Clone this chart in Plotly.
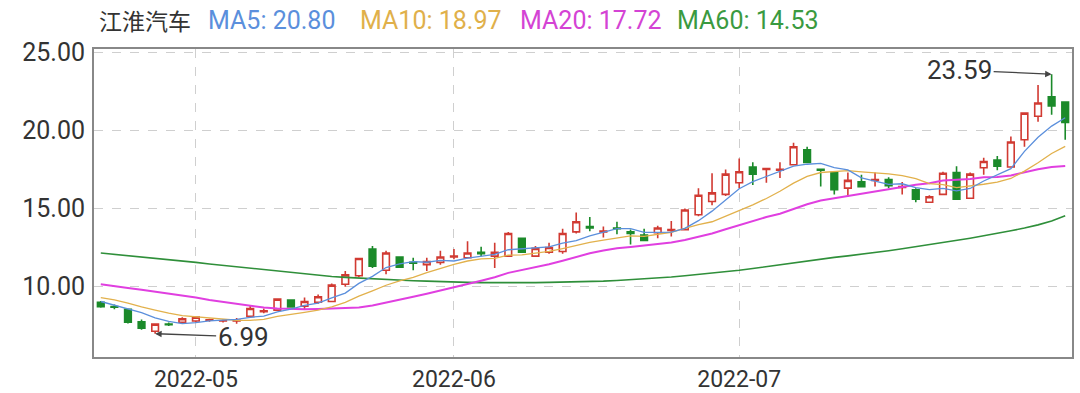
import plotly.graph_objects as go

dates = [
    "2022-04-21", "2022-04-22", "2022-04-25", "2022-04-26", "2022-04-27", "2022-04-28", "2022-04-29",
    "2022-05-05", "2022-05-06", "2022-05-09", "2022-05-10", "2022-05-11", "2022-05-12", "2022-05-13",
    "2022-05-16", "2022-05-17", "2022-05-18", "2022-05-19", "2022-05-20", "2022-05-23", "2022-05-24",
    "2022-05-25", "2022-05-26", "2022-05-27", "2022-05-30", "2022-05-31",
    "2022-06-01", "2022-06-02", "2022-06-06", "2022-06-07", "2022-06-08", "2022-06-09", "2022-06-10",
    "2022-06-13", "2022-06-14", "2022-06-15", "2022-06-16", "2022-06-17", "2022-06-20", "2022-06-21",
    "2022-06-22", "2022-06-23", "2022-06-24", "2022-06-27", "2022-06-28", "2022-06-29", "2022-06-30",
    "2022-07-01", "2022-07-04", "2022-07-05", "2022-07-06", "2022-07-07", "2022-07-08", "2022-07-11",
    "2022-07-12", "2022-07-13", "2022-07-14", "2022-07-15", "2022-07-18", "2022-07-19", "2022-07-20",
    "2022-07-21", "2022-07-22", "2022-07-25", "2022-07-26", "2022-07-27", "2022-07-28", "2022-07-29",
    "2022-08-01", "2022-08-02", "2022-08-03", "2022-08-04",
]

open_ = [9.00, 8.72, 8.55, 7.75, 7.15, 7.60, 7.72, 7.80, 7.85, 7.80,
         7.80, 8.10, 8.40, 8.50, 9.15, 8.75, 9.00, 9.05, 10.15, 10.70,
         12.40, 11.05, 11.90, 11.55, 11.40, 11.55, 11.90, 11.85, 12.20, 11.95,
         11.95, 13.10, 11.95, 12.20, 12.25, 13.50, 13.85, 13.50, 13.75, 13.50,
         13.30, 13.45, 13.60, 13.65, 14.60, 15.45, 15.90, 16.65, 17.65, 17.50,
         17.45, 17.80, 18.75, 17.50, 17.30, 16.30, 16.70, 16.80, 16.85, 16.35,
         16.20, 15.40, 15.90, 17.30, 15.65, 17.60, 18.10, 17.65, 19.40, 20.90,
         22.15, 21.80]
high = [9.08, 8.85, 8.60, 7.90, 7.65, 7.70, 8.05, 8.10, 7.95, 7.90,
        8.00, 8.80, 8.60, 9.25, 9.20, 9.30, 9.50, 10.20, 11.00, 11.85,
        12.60, 12.30, 11.95, 11.85, 11.85, 12.30, 12.40, 12.90, 12.55, 12.80,
        13.50, 13.15, 12.60, 12.80, 13.70, 14.75, 14.45, 13.85, 14.15, 13.65,
        13.70, 13.90, 14.20, 15.00, 16.30, 17.25, 17.50, 18.20, 17.95, 17.60,
        17.95, 19.20, 18.95, 17.55, 17.35, 17.30, 17.15, 17.30, 17.00, 16.70,
        16.30, 15.85, 17.35, 17.70, 17.30, 18.25, 18.35, 19.60, 21.15, 22.90,
        23.59, 21.85]
low = [8.65, 8.55, 7.65, 7.25, 6.99, 7.48, 7.65, 7.72, 7.75, 7.70,
       7.62, 8.00, 8.30, 8.45, 8.65, 8.55, 8.90, 9.00, 10.00, 10.60,
       11.20, 10.80, 11.20, 11.05, 11.00, 11.40, 11.75, 11.80, 11.95, 11.20,
       11.90, 12.15, 11.90, 12.10, 12.10, 13.40, 13.55, 13.15, 13.35, 12.70,
       12.90, 13.10, 13.20, 13.60, 14.50, 15.20, 15.80, 16.30, 16.50, 16.65,
       16.95, 17.75, 17.90, 16.40, 15.90, 15.75, 16.35, 16.40, 16.30, 15.90,
       15.40, 15.35, 15.85, 15.55, 15.60, 17.15, 17.45, 17.60, 18.95, 20.55,
       21.00, 19.40]
close = [8.72, 8.68, 7.72, 7.35, 7.60, 7.56, 7.95, 8.05, 7.88, 7.82,
         7.85, 8.60, 8.45, 9.20, 8.70, 9.05, 9.35, 10.10, 10.75, 11.80,
         11.30, 12.15, 11.25, 11.50, 11.60, 11.90, 11.95, 12.15, 12.10, 12.20,
         13.40, 12.20, 12.45, 12.50, 13.40, 14.15, 13.75, 13.55, 13.70, 13.40,
         12.95, 13.75, 13.65, 14.90, 15.85, 16.00, 17.20, 17.35, 17.20, 17.55,
         17.50, 18.95, 17.95, 17.45, 16.20, 16.80, 16.40, 16.85, 16.45, 16.40,
         15.60, 15.75, 17.25, 15.60, 17.20, 18.00, 17.70, 19.25, 21.10, 21.75,
         21.55, 20.50]

ma5 = [9.05, 8.80, 8.55, 8.34, 8.01, 7.78, 7.64, 7.70, 7.81, 7.85,
       7.91, 8.04, 8.12, 8.38, 8.56, 8.80, 8.95, 9.28, 9.59, 10.21,
       10.66, 11.22, 11.45, 11.60, 11.56, 11.68, 11.64, 11.82, 11.94, 12.06,
       12.36, 12.41, 12.47, 12.55, 12.79, 12.94, 13.25, 13.47, 13.71, 13.71,
       13.47, 13.47, 13.49, 13.73, 14.22, 14.83, 15.52, 16.26, 16.72, 17.06,
       17.36, 17.71, 17.83, 17.88, 17.61, 17.47, 16.96, 16.74, 16.54, 16.58,
       16.34, 16.21, 16.29, 16.12, 16.28, 16.76, 17.15, 17.55, 18.65, 19.56,
       20.27, 20.80]
ma10 = [9.30, 9.15, 8.95, 8.70, 8.50, 8.30, 8.15, 8.08, 8.00, 7.93,
        7.85, 7.84, 7.91, 8.10, 8.21, 8.36, 8.50, 8.70, 8.99, 9.39,
        9.73, 10.09, 10.37, 10.60, 10.89, 11.17, 11.43, 11.64, 11.77, 11.81,
        12.02, 12.03, 12.15, 12.25, 12.43, 12.65, 12.83, 12.97, 13.13, 13.25,
        13.21, 13.36, 13.48, 13.72, 13.97, 14.15, 14.50, 14.88, 15.23, 15.64,
        16.10, 16.62, 17.05, 17.30, 17.34, 17.42, 17.34, 17.29, 17.21, 17.10,
        16.91, 16.59, 16.52, 16.33, 16.43, 16.55, 16.68, 16.92, 17.39, 17.92,
        18.52, 18.97]
ma20 = [10.15, 10.05, 9.92, 9.80, 9.68, 9.55, 9.42, 9.30, 9.15, 9.02,
        8.88, 8.76, 8.66, 8.60, 8.56, 8.55, 8.57, 8.60, 8.63, 8.66,
        8.79, 8.97, 9.14, 9.35, 9.55, 9.77, 9.97, 10.17, 10.38, 10.60,
        10.88, 11.06, 11.26, 11.43, 11.66, 11.91, 12.13, 12.31, 12.45, 12.53,
        12.62, 12.70, 12.82, 12.99, 13.20, 13.40, 13.67, 13.93, 14.18, 14.45,
        14.66, 14.99, 15.27, 15.51, 15.66, 15.79, 15.92, 16.09, 16.22, 16.37,
        16.51, 16.61, 16.79, 16.82, 16.89, 16.99, 17.01, 17.11, 17.30, 17.51,
        17.65, 17.72]
ma60 = [12.15, 12.07, 11.98, 11.90, 11.81, 11.72, 11.63, 11.55, 11.45, 11.36,
        11.27, 11.17, 11.08, 10.98, 10.88, 10.80, 10.72, 10.65, 10.59, 10.54,
        10.49, 10.45, 10.41, 10.38, 10.35, 10.31, 10.29, 10.27, 10.26, 10.25,
        10.25, 10.25, 10.26, 10.27, 10.28, 10.30, 10.32, 10.35, 10.39, 10.44,
        10.50, 10.56, 10.62, 10.70, 10.78, 10.87, 10.95, 11.05, 11.16, 11.28,
        11.40, 11.52, 11.65, 11.78, 11.87, 11.97, 12.07, 12.18, 12.30, 12.42,
        12.55, 12.68, 12.82, 12.96, 13.10, 13.25, 13.40, 13.57, 13.75, 13.95,
        14.20, 14.53]

stock_name = "江淮汽车"
month_ticks = ["2022-05-05", "2022-06-01", "2022-07-01"]
month_labels = ["2022-05", "2022-06", "2022-07"]
y_ticks = [10, 15, 20, 25]
y_labels = ["10.00", "15.00", "20.00", "25.00"]

RED = "#d13a32"
GREEN = "#1b8a2a"
C_MA5 = "#5b8fdc"
C_MA10 = "#e2b14c"
C_MA20 = "#e03fe0"
C_MA60 = "#2f8f3a"

W, H = 1080, 393
ML, MR, MT, MB = 94, 8, 49, 36
PW, PH = W - ML - MR, H - MT - MB

def px(x):
    return (x - ML) / PW

def py(y):
    return (H - MB - y) / PH

fig = go.Figure()

for vals, col, wd in [(ma60, C_MA60, 1.6), (ma20, C_MA20, 2.0), (ma10, C_MA10, 1.3), (ma5, C_MA5, 1.3)]:
    fig.add_trace(go.Scatter(x=dates, y=vals, mode="lines", line=dict(color=col, width=wd),
                             hoverinfo="skip", showlegend=False))

fig.add_trace(go.Candlestick(
    x=dates, open=open_, high=high, low=low, close=close,
    increasing=dict(line=dict(color=RED, width=1.6), fillcolor="white"),
    decreasing=dict(line=dict(color=GREEN, width=1.6), fillcolor=GREEN),
    whiskerwidth=0, showlegend=False, hoverinfo="skip",
))

font_main = "Roboto, 'Noto Sans CJK SC', sans-serif"

# header (legend-like) texts
header = [
    (stock_name, "#333333", 97, 23, "'Noto Sans CJK SC', sans-serif"),
    (f"MA5: {ma5[-1]:.2f}", C_MA5, 206, 25, font_main),
    (f"MA10: {ma10[-1]:.2f}", "#e0b04a", 358, 25, font_main),
    (f"MA20: {ma20[-1]:.2f}", "#d443d4", 518, 25, font_main),
    (f"MA60: {ma60[-1]:.2f}", "#3a9a40", 675, 25, font_main),
]
for txt, col, xpix, fs, fam in header:
    fig.add_annotation(x=px(xpix), y=py(20), xref="paper", yref="paper", text=txt,
                       showarrow=False, xanchor="left", yanchor="middle",
                       font=dict(size=fs, color=col, family=fam))

# max / min annotations
imax = high.index(max(high))
imin = low.index(min(low))
fig.add_annotation(x=dates[imax], y=high[imax], text=f"{high[imax]:.2f}",
                   showarrow=True, arrowhead=2, arrowsize=1, arrowwidth=1.3, arrowcolor="#444",
                   ax=-92, ay=-4, font=dict(size=26, color="#333", family=font_main))
fig.add_annotation(x=dates[imin], y=low[imin], text=f"{low[imin]:.2f}",
                   showarrow=True, arrowhead=2, arrowsize=1, arrowwidth=1.3, arrowcolor="#444",
                   ax=88, ay=3, font=dict(size=26, color="#333", family=font_main))

fig.update_layout(
    width=W, height=H,
    margin=dict(l=ML, r=MR, t=MT, b=MB, autoexpand=False),
    paper_bgcolor="white", plot_bgcolor="white",
    showlegend=False,
    font=dict(family=font_main, color="#333"),
)
fig.update_xaxes(
    type="category", categoryorder="array", categoryarray=dates,
    range=[-0.5, len(dates) - 0.5],
    rangeslider=dict(visible=False),
    tickmode="array", tickvals=month_ticks, ticktext=month_labels,
    showgrid=True, gridcolor="#cfcfcf", griddash="dash", gridwidth=1,
    showline=True, mirror=True, linecolor="#888", linewidth=2,
    ticks="", tickfont=dict(size=23, color="#333"), ticklabelstandoff=0,
    zeroline=False, automargin=False,
)
fig.update_yaxes(
    range=[5.5, 25.2],
    tickmode="array", tickvals=y_ticks, ticktext=y_labels,
    showgrid=True, gridcolor="#cfcfcf", griddash="dash", gridwidth=1,
    showline=True, mirror=True, linecolor="#888", linewidth=2,
    ticks="", tickfont=dict(size=25, color="#333"), ticklabelstandoff=2,
    zeroline=False, automargin=False,
)

fig.write_html("out.html")
